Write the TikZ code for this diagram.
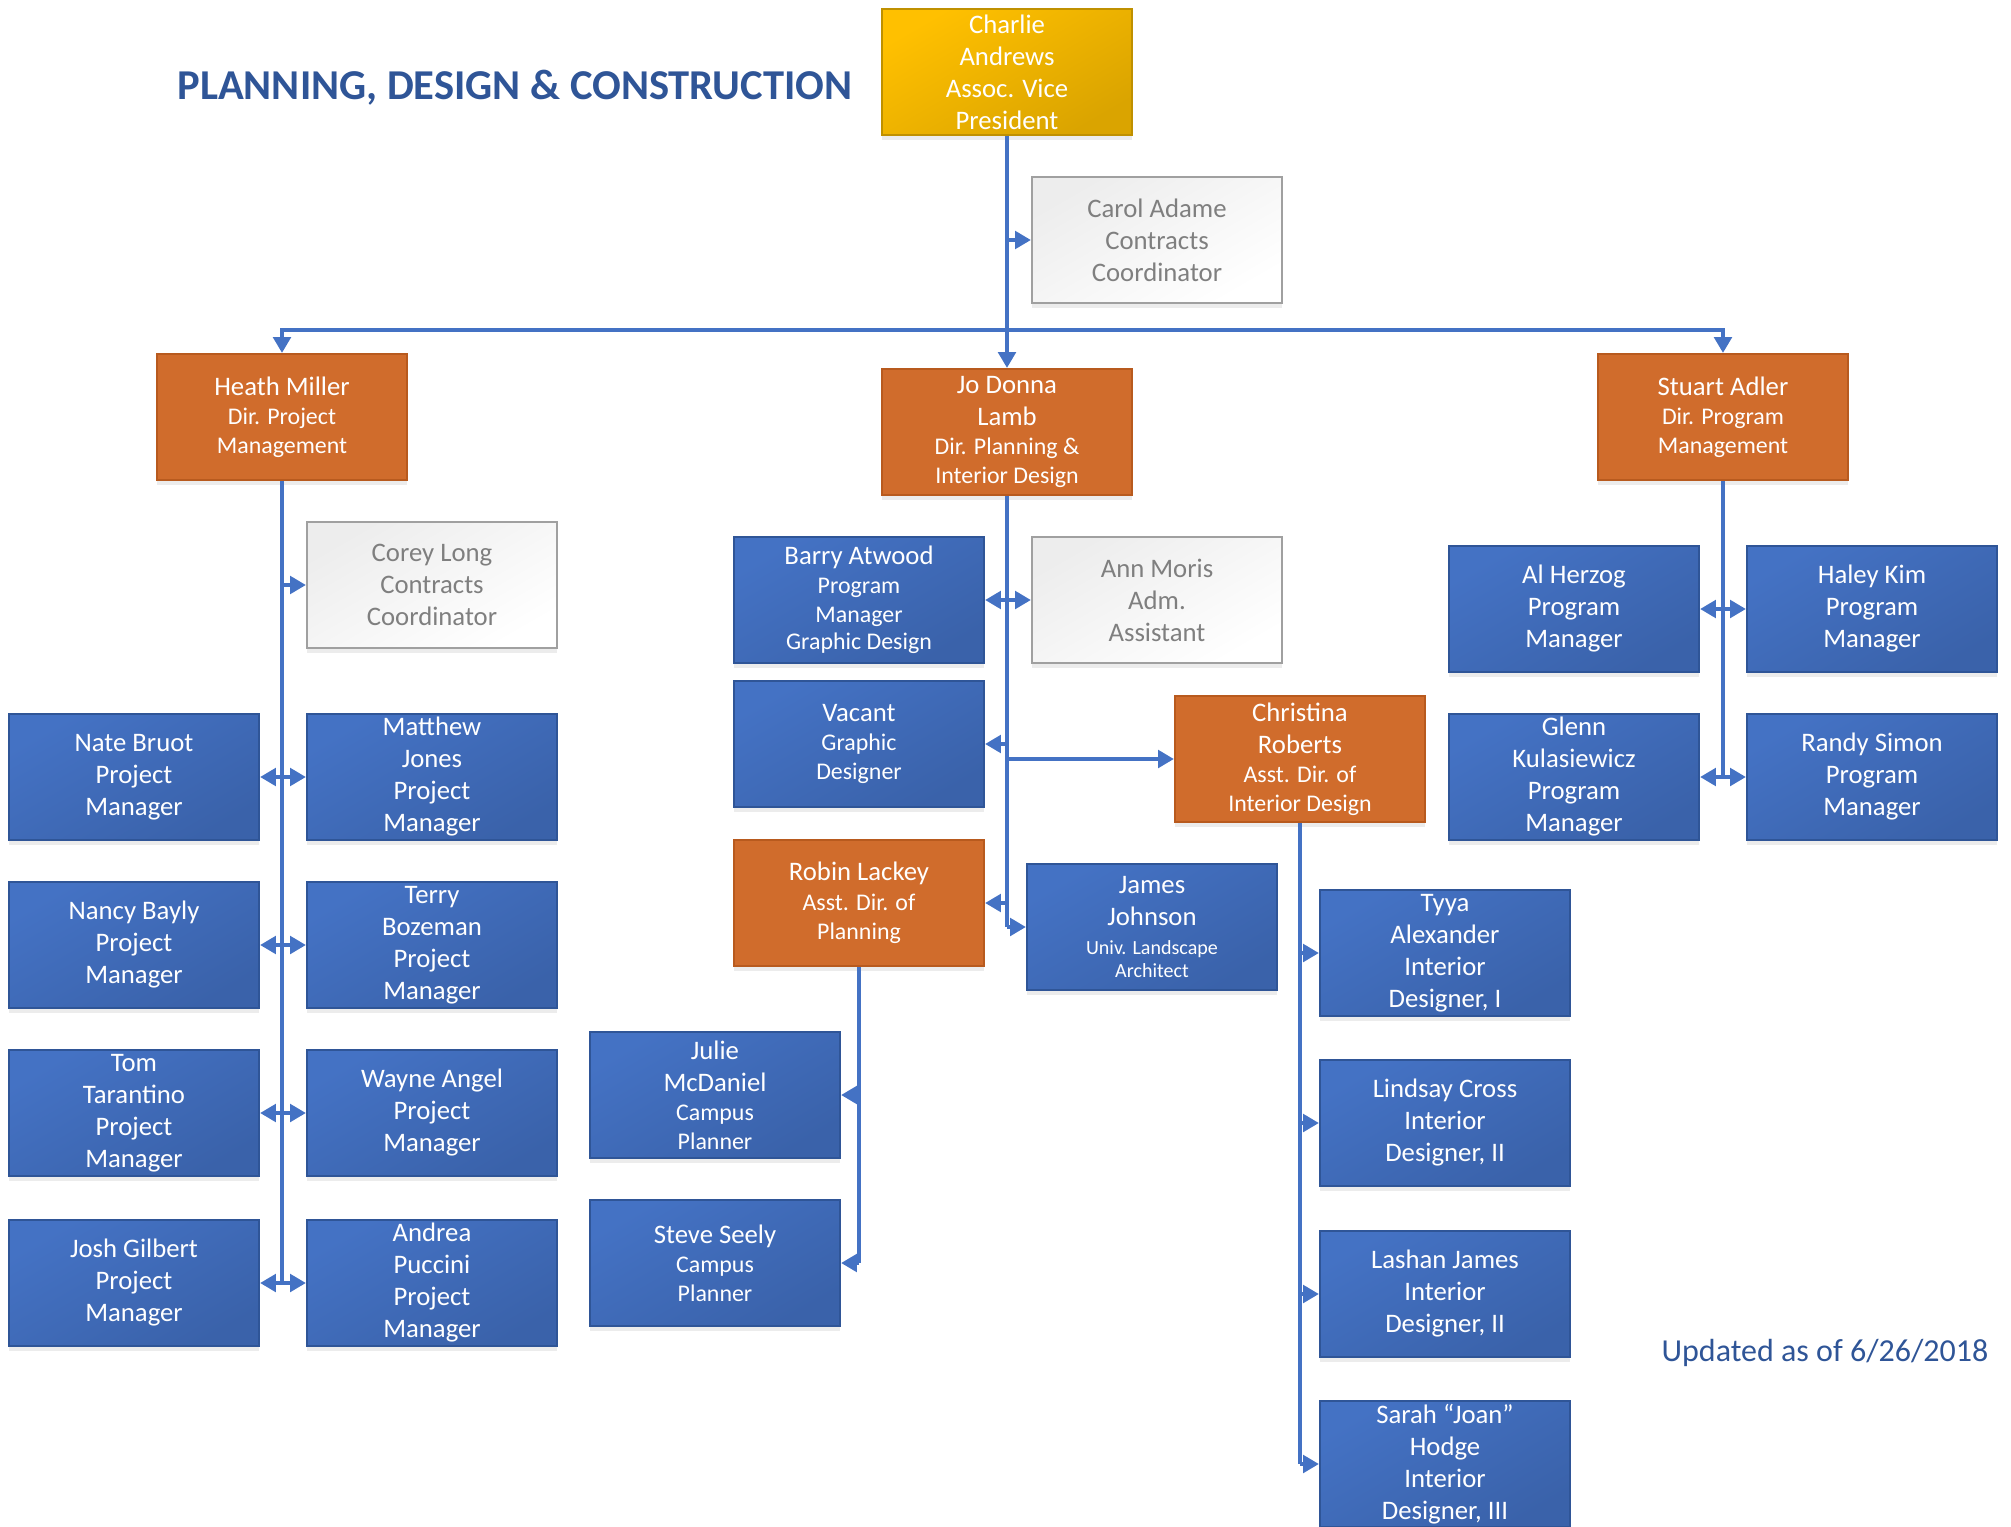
\documentclass[tikz,border=0pt]{standalone}
\usepackage{fontspec}
\setmainfont{Carlito}
\usetikzlibrary{arrows.meta,shadows}

\definecolor{staffblue}{HTML}{4472C4}
\definecolor{staffdark}{HTML}{3A62AA}
\definecolor{staffline}{HTML}{2F5597}
\definecolor{dirorange}{HTML}{D06C2C}
\definecolor{dirline}{HTML}{B85A1E}
\definecolor{vpgold}{HTML}{FFC000}
\definecolor{vpdark}{HTML}{DAA400}
\definecolor{vpline}{HTML}{BF9000}
\definecolor{aidegray}{HTML}{EDEDED}
\definecolor{aideline}{HTML}{A0A0A0}
\definecolor{aidetext}{HTML}{7F7F7F}
\definecolor{linkblue}{HTML}{4472C4}
\definecolor{titleblue}{HTML}{2F5597}

\newcommand{\sm}[1]{{\fontsize{6.8}{8.2}\selectfont #1}}
\newcommand{\xs}[1]{{\fontsize{5.7}{6.8}\selectfont #1}}

\begin{document}
\begin{tikzpicture}[x=0.01cm, y=-0.01cm,
    box/.style={rectangle, draw, line width=0.6pt, minimum width=2.5cm, minimum height=1.26cm,
      align=center, text=white, inner sep=1pt, font=\fontsize{7.6}{9.1}\selectfont,
      drop shadow={opacity=0.15, shadow xshift=0pt, shadow yshift=-1.5pt}},
    staffbox/.style={box, draw=staffline, top color=staffblue, bottom color=staffdark, shading angle=30},
    dirbox/.style={box, draw=dirline, fill=dirorange},
    vpbox/.style={box, draw=vpline, top color=vpgold, bottom color=vpdark, shading angle=30},
    aidebox/.style={box, draw=aideline, top color=aidegray, bottom color=white, shading angle=30, text=aidetext},
    link/.style={draw=linkblue, line width=1pt},
    arr/.style={link, -{Triangle[length=4.5pt, width=5pt]}}]
  \useasboundingbox (0,0) rectangle (2011,1527);

  \node[font=\fontsize{12.1}{14}\selectfont\bfseries, text=titleblue] (title) at (515,88) {PLANNING, DESIGN \& CONSTRUCTION};
  \node[font=\fontsize{9.1}{11}\selectfont, text=titleblue] (updated) at (1825,1353) {Updated as of 6/26/2018};

  % top level
  \node[vpbox] (charlie) at (1007,72) {Charlie\\Andrews\\Assoc. Vice\\President};
  \node[aidebox] (carol) at (1157,240) {Carol Adame\\Contracts\\Coordinator};
  \node[dirbox] (heath) at (282,417) {Heath Miller\\[-0.9pt]\sm{Dir. Project}\\[-0.9pt]\sm{Management}};
  \node[dirbox] (jodonna) at (1007,432) {Jo Donna\\Lamb\\[-0.9pt]\sm{Dir. Planning \&}\\[-0.9pt]\sm{Interior Design}};
  \node[dirbox] (stuart) at (1723,417) {Stuart Adler\\[-0.9pt]\sm{Dir. Program}\\[-0.9pt]\sm{Management}};

  % project management
  \node[aidebox] (corey) at (432,585) {Corey Long\\Contracts\\Coordinator};
  \node[staffbox] (nate) at (134,777) {Nate Bruot\\Project\\Manager};
  \node[staffbox] (matthew) at (432,777) {Matthew\\Jones\\Project\\Manager};
  \node[staffbox] (nancy) at (134,945) {Nancy Bayly\\Project\\Manager};
  \node[staffbox] (terry) at (432,945) {Terry\\Bozeman\\Project\\Manager};
  \node[staffbox] (tom) at (134,1113) {Tom\\Tarantino\\Project\\Manager};
  \node[staffbox] (wayne) at (432,1113) {Wayne Angel\\Project\\Manager};
  \node[staffbox] (josh) at (134,1283) {Josh Gilbert\\Project\\Manager};
  \node[staffbox] (andrea) at (432,1283) {Andrea\\Puccini\\Project\\Manager};

  % planning & interior design
  \node[staffbox] (barry) at (859,600) {Barry Atwood\\[-0.9pt]\sm{Program}\\[-0.9pt]\sm{Manager}\\[-1.2pt]\sm{Graphic Design}};
  \node[aidebox] (ann) at (1157,600) {Ann Moris\\Adm.\\Assistant};
  \node[staffbox] (vacant) at (859,744) {Vacant\\[-0.9pt]\sm{Graphic}\\[-0.9pt]\sm{Designer}};
  \node[dirbox] (christina) at (1300,759) {Christina\\Roberts\\[-0.9pt]\sm{Asst. Dir. of}\\[-0.9pt]\sm{Interior Design}};
  \node[dirbox] (robin) at (859,903) {Robin Lackey\\[-0.6pt]\sm{Asst. Dir. of}\\[-0.9pt]\sm{Planning}};
  \node[staffbox] (james) at (1152,927) {James\\Johnson\\[-0.9pt]\xs{Univ. Landscape}\\[-2.4pt]\xs{Architect}};
  \node[staffbox] (julie) at (715,1095) {Julie\\McDaniel\\[-0.9pt]\sm{Campus}\\[-0.9pt]\sm{Planner}};
  \node[staffbox] (steve) at (715,1263) {Steve Seely\\[-0.9pt]\sm{Campus}\\[-0.9pt]\sm{Planner}};
  \node[staffbox] (tyya) at (1445,953) {Tyya\\Alexander\\Interior\\Designer, I};
  \node[staffbox] (lindsay) at (1445,1123) {Lindsay Cross\\Interior\\Designer, II};
  \node[staffbox] (lashan) at (1445,1294) {Lashan James\\Interior\\Designer, II};
  \node[staffbox] (sarah) at (1445,1464) {Sarah “Joan”\\Hodge\\Interior\\Designer, III};

  % program management
  \node[staffbox] (al) at (1574,609) {Al Herzog\\Program\\Manager};
  \node[staffbox] (haley) at (1872,609) {Haley Kim\\Program\\Manager};
  \node[staffbox] (glenn) at (1574,777) {Glenn\\Kulasiewicz\\Program\\Manager};
  \node[staffbox] (randy) at (1872,777) {Randy Simon\\Program\\Manager};

  % connectors
  \coordinate (bus) at (1007,330);
  \draw[arr] (charlie) -- (jodonna);
  \draw[arr] (charlie |- carol) -- (carol);
  \draw[arr] (bus) -| (heath);
  \draw[arr] (bus) -| (stuart);

  \draw[link] (heath) -- (heath |- josh);
  \foreach \n in {corey, nate, matthew, nancy, terry, tom, wayne, josh, andrea}
    \draw[arr] (heath |- \n) -- (\n);

  \draw[link] (jodonna) -- (jodonna |- james);
  \foreach \n in {barry, ann, vacant, christina, robin, james}
    \draw[arr] (jodonna |- \n) -- (\n);

  \draw[link] (robin) -- (robin |- steve);
  \foreach \n in {julie, steve}
    \draw[arr] (robin |- \n) -- (\n);

  \draw[link] (christina) -- (christina |- sarah);
  \foreach \n in {tyya, lindsay, lashan, sarah}
    \draw[arr] (christina |- \n) -- (\n);

  \draw[link] (stuart) -- (stuart |- glenn);
  \foreach \n in {al, haley, glenn, randy}
    \draw[arr] (stuart |- \n) -- (\n);
\end{tikzpicture}
\end{document}
